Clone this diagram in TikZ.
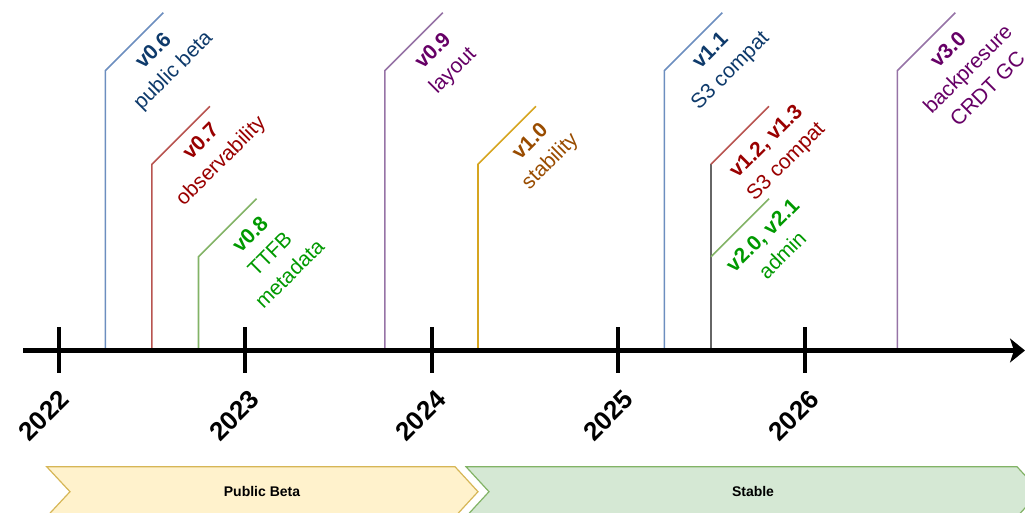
\documentclass[tikz,border=0pt]{standalone}
\usepackage{fontspec}
\setmainfont{Liberation Sans}
\usetikzlibrary{arrows.meta,calc}

\definecolor{blueline}{HTML}{6C8EBF}
\definecolor{bluetext}{HTML}{0E3A6B}
\definecolor{redline}{HTML}{B85450}
\definecolor{redtext}{HTML}{990000}
\definecolor{greenline}{HTML}{82B366}
\definecolor{greentext}{HTML}{009900}
\definecolor{purpleline}{HTML}{9673A6}
\definecolor{purpletext}{HTML}{660066}
\definecolor{goldline}{HTML}{D6A520}
\definecolor{browntext}{HTML}{994C00}
\definecolor{grayline}{HTML}{666666}
\definecolor{betafill}{HTML}{FFF2CC}
\definecolor{betadraw}{HTML}{D6B656}
\definecolor{stablefill}{HTML}{D5E8D4}
\definecolor{stabledraw}{HTML}{82B366}

\begin{document}
\begin{tikzpicture}[x=1pt,y=-1pt,
  relline/.style={line width=1.6pt},
  rellabel/.style={rotate=45, anchor=north, align=center, inner sep=0pt,
    font=\fontsize{21}{28}\selectfont},
  yearlabel/.style={rotate=45, inner sep=0pt, font=\fontsize{26}{30}\selectfont\bfseries},
  tickmark/.style={line width=4pt},
  axisline/.style={line width=5pt, -{Stealth[length=15pt,width=24pt,inset=4pt]}},
  phase/.style={line width=1.2pt, line join=miter},
  phaselabel/.style={font=\fontsize{14}{16}\selectfont\bfseries, inner sep=0pt}
]
\useasboundingbox (0,0) rectangle (1025,513);
\clip (0,0) rectangle (1025,513);

% ---- phase bands ----
\fill[betafill, draw=betadraw, phase]
  (46.7,466.7) -- (455,466.7) -- (478,491.7) -- (455,516.7) -- (46.7,516.7) -- (70,491.7) -- cycle;
\node[phaselabel] (beta) at (262,491.7) {Public Beta};
\fill[stablefill, draw=stabledraw, phase]
  (466,466.7) -- (1017,466.7) -- (1040,491.7) -- (1017,516.7) -- (466,516.7) -- (489,491.7) -- cycle;
\node[phaselabel] (stable) at (753,491.7) {Stable};

% ---- release markers ----
% v0.6
\coordinate (r06a) at (105.3,350.5);
\coordinate (r06b) at (105.3,70.7);
\coordinate (r06c) at ($(r06b)+(58,-58)$);
\draw[relline, blueline] (r06a) -- (r06b) -- (r06c);
\node[rellabel, text=bluetext] (l06) at ($(r06b)!0.5!(r06c)+(13,3)$) {\textbf{v0.6}\\public beta};

% v0.7
\coordinate (r07a) at (151.9,350.5);
\coordinate (r07b) at (151.9,164.3);
\coordinate (r07c) at ($(r07b)+(58,-58)$);
\draw[relline, redline] (r07a) -- (r07b) -- (r07c);
\node[rellabel, text=redtext] (l07) at ($(r07b)!0.5!(r07c)+(14,0)$) {\textbf{v0.7}\\observability};

% v0.8
\coordinate (r08a) at (198.5,350.5);
\coordinate (r08b) at (198.5,256.7);
\coordinate (r08c) at ($(r08b)+(58,-58)$);
\draw[relline, greenline] (r08a) -- (r08b) -- (r08c);
\node[rellabel, text=greentext] (l08) at ($(r08b)!0.5!(r08c)+(17,1)$) {\textbf{v0.8}\\TTFB\\metadata};

% v0.9
\coordinate (r09a) at (384.8,350.5);
\coordinate (r09b) at (384.8,70.7);
\coordinate (r09c) at ($(r09b)+(58,-58)$);
\draw[relline, purpleline] (r09a) -- (r09b) -- (r09c);
\node[rellabel, text=purpletext] (l09) at ($(r09b)!0.5!(r09c)+(13,3)$) {\textbf{v0.9}\\layout};

% v1.0
\coordinate (r10a) at (478,350.5);
\coordinate (r10b) at (478,164.3);
\coordinate (r10c) at ($(r10b)+(58,-58)$);
\draw[relline, goldline] (r10a) -- (r10b) -- (r10c);
\node[rellabel, text=browntext] (l10) at ($(r10b)!0.5!(r10c)+(17,0)$) {\textbf{v1.0}\\stability};

% v1.1
\coordinate (r11a) at (664.4,350.5);
\coordinate (r11b) at (664.4,70.7);
\coordinate (r11c) at ($(r11b)+(58,-58)$);
\draw[relline, blueline] (r11a) -- (r11b) -- (r11c);
\node[rellabel, text=bluetext] (l11) at ($(r11b)!0.5!(r11c)+(11,3)$) {\textbf{v1.1}\\S3 compat};

% v1.2, v1.3 and v2.0, v2.1 share one stem
\coordinate (r12a) at (711,350.5);
\coordinate (r20b) at (711,256.7);
\coordinate (r12b) at (711,164.3);
\coordinate (r12c) at ($(r12b)+(58,-58)$);
\coordinate (r20c) at ($(r20b)+(58,-58)$);
\draw[relline, grayline] (r12a) -- (r20b) -- (r12b);
\draw[relline, redline] (r12b) -- (r12c);
\draw[relline, greenline] (r20b) -- (r20c);
\node[rellabel, text=redtext] (l12) at ($(r12b)!0.5!(r12c)+(20,0)$) {\textbf{v1.2, v1.3}\\S3 compat};
\node[rellabel, text=greentext] (l20) at ($(r20b)!0.5!(r20c)+(17,2)$) {\textbf{v2.0, v2.1}\\admin};

% v3.0
\coordinate (r30a) at (897.3,350.5);
\coordinate (r30b) at (897.3,70.7);
\coordinate (r30c) at ($(r30b)+(58,-58)$);
\draw[relline, purpleline] (r30a) -- (r30b) -- (r30c);
\node[rellabel, text=purpletext] (l30) at ($(r30b)!0.5!(r30c)+(16,2)$) {\textbf{v3.0}\\backpresure\\CRDT GC};

% ---- time axis ----
\coordinate (axstart) at (23,350.5);
\coordinate (axend) at (1025,350.5);
\draw[axisline] (axstart) -- (axend);

\foreach \yr/\xx/\dx in {2022/58.7/-15, 2023/245.2/-11, 2024/431.7/-11, 2025/618.2/-10, 2026/804.7/-11} {
  \coordinate (y\yr) at (\xx,350.5);
  \draw[tickmark] ($(y\yr)+(0,-23.5)$) -- ($(y\yr)+(0,22.5)$);
  \node[yearlabel] (lab\yr) at ($(y\yr)+(\dx,65)$) {\yr};
}
\end{tikzpicture}
\end{document}
